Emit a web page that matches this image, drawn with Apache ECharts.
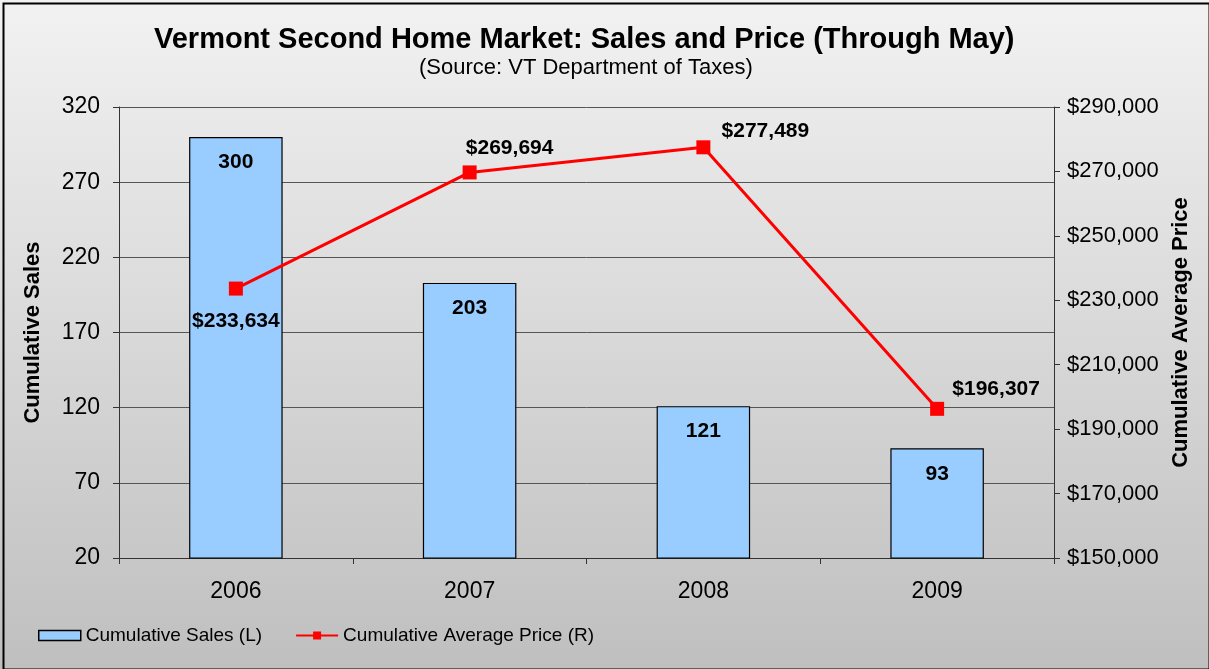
<!DOCTYPE html>
<html><head><meta charset="utf-8">
<script src="https://cdn.jsdelivr.net/npm/echarts@6/dist/echarts.min.js"></script>
<style>html,body{margin:0;padding:0;}#c{width:1209px;height:669px;}</style>
</head><body><div id="c"></div>
<script>
const categories = ['2006','2007','2008','2009'];
const salesValues = [300, 203, 121, 93];
const priceValues = [233634, 269694, 277489, 196307];
const leftTicks = [20, 320, 50];
const rightTicks = [150000, 290000, 20000];

const FONT = '"Liberation Sans", Arial, sans-serif';
const money = v => '$' + Math.round(v).toLocaleString('en-US');

const priceLabelOffsets = [[0, 33], [40, -24], [62, -16], [59, -20]];

const chart = echarts.init(document.getElementById('c'));
chart.setOption({
  backgroundColor: new echarts.graphic.LinearGradient(0,0,0,1,[
    {offset:0,color:'#f2f2f2'},{offset:1,color:'#bfbfbf'}]),
  animation: false,
  textStyle: {fontFamily: FONT},
  title: [{
    text: 'Vermont Second Home Market: Sales and Price (Through May)',
    left: 149, top: 20,
    textStyle: {fontFamily: FONT, fontSize: 29, fontWeight: 'bold', color: '#000'}
  }, {
    text: '(Source: VT Department of Taxes)',
    left: 414, top: 52,
    textStyle: {fontFamily: FONT, fontSize: 22, fontWeight: 'normal', color: '#000'}
  }],
  legend: {
    left: 33, top: 621, itemGap: 33,
    textStyle: {fontFamily: FONT, fontSize: 19, color: '#000'},
    data: [
      {name: 'Cumulative Sales (L)', icon: 'rect', itemStyle: {borderColor: '#000', borderWidth: 1.5}},
      {name: 'Cumulative Average Price (R)'}
    ],
    itemWidth: 42, itemHeight: 10
  },
  grid: {left: 119, right: 155, top: 107, bottom: 111},
  xAxis: {
    type: 'category', data: categories,
    axisLine: {lineStyle: {color: '#333', width: 1}},
    axisTick: {show: true, alignWithLabel: false, length: 6, lineStyle: {color: '#333'}},
    axisLabel: {fontFamily: FONT, fontSize: 23, color: '#000', margin: 22}
  },
  yAxis: [{
    type: 'value', min: leftTicks[0], max: leftTicks[1], interval: leftTicks[2],
    name: 'Cumulative Sales', nameLocation: 'middle', nameGap: 75,
    nameTextStyle: {fontFamily: FONT, fontSize: 22, fontWeight: 'bold', color: '#000'},
    axisLine: {show: true, lineStyle: {color: '#333'}},
    axisTick: {show: true, length: 6, lineStyle: {color: '#333'}},
    axisLabel: {fontFamily: FONT, fontSize: 23, color: '#000', margin: 19},
    splitLine: {show: true, lineStyle: {color: '#555', width: 1}}
  }, {
    type: 'value', min: rightTicks[0], max: rightTicks[1], interval: rightTicks[2],
    position: 'right',
    name: 'Cumulative Average Price', nameLocation: 'middle', nameGap: 114,
    nameRotate: 90,
    nameTextStyle: {fontFamily: FONT, fontSize: 22, fontWeight: 'bold', color: '#000'},
    axisLine: {show: true, lineStyle: {color: '#333'}},
    axisTick: {show: true, length: 6, lineStyle: {color: '#333'}},
    axisLabel: {fontFamily: FONT, fontSize: 22, color: '#000', margin: 13, formatter: money},
    splitLine: {show: false}
  }],
  series: [{
    name: 'Cumulative Sales (L)', type: 'bar', yAxisIndex: 0,
    data: salesValues, barWidth: '40%',
    itemStyle: {color: '#99ccff', borderColor: '#000', borderWidth: 1.2},
    label: {show: true, position: 'insideTop', distance: 15,
      fontFamily: FONT, fontSize: 21, fontWeight: 'bold', color: '#000'}
  }, {
    name: 'Cumulative Average Price (R)', type: 'line', yAxisIndex: 1,
    data: priceValues.map((v, i) => ({value: v, label: {position: 'inside', offset: priceLabelOffsets[i]}})),
    lineStyle: {color: '#ff0000', width: 3},
    itemStyle: {color: '#ff0000'},
    symbol: 'rect', symbolSize: 14,
    label: {show: true, fontFamily: FONT, fontSize: 21, fontWeight: 'bold', color: '#000',
      formatter: p => money(p.value)}
  }],
  graphic: [{
    type: 'rect', left: 1, top: 1, silent: true,
    shape: {width: 1206, height: 666},
    style: {fill: 'none', stroke: '#000', lineWidth: 2}
  }]
});
</script></body></html>
